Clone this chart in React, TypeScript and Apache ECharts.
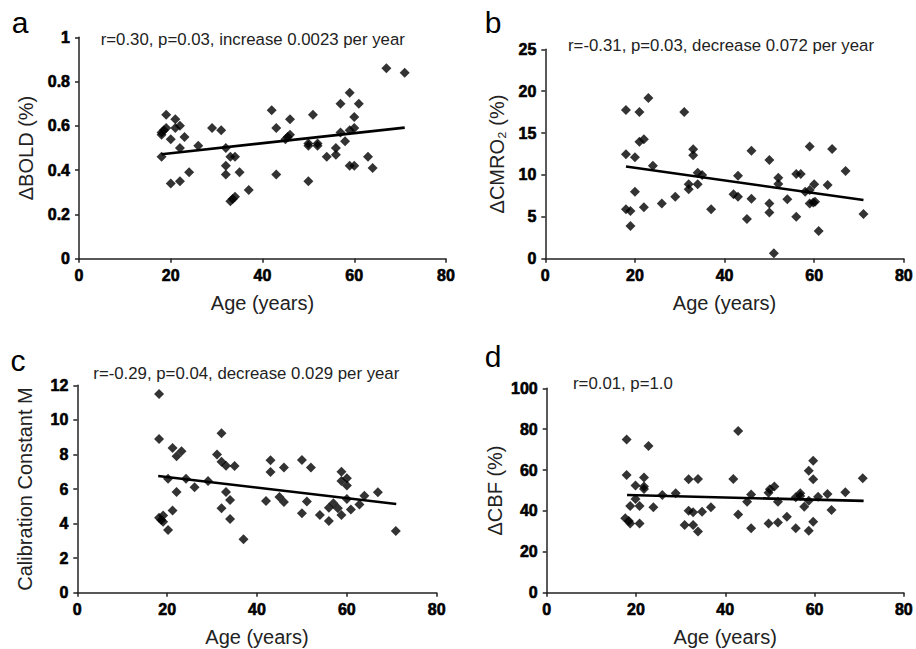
import React, { useEffect, useRef } from "react";
import * as echarts from "echarts";

// Panel a: ΔBOLD (%) vs age
const boldPoints: number[][] = [
  [18, 0.57], [18, 0.56], [18, 0.46], [18.5, 0.58], [19, 0.59], [19, 0.65], [20, 0.54], [20, 0.34],
  [21, 0.63], [21, 0.59], [22, 0.6], [22, 0.5], [22, 0.35], [23, 0.55], [24, 0.39], [26, 0.51],
  [29, 0.59], [31, 0.58], [32, 0.5], [32, 0.42], [32, 0.38], [33, 0.46], [34, 0.46], [33, 0.26],
  [33.5, 0.27], [34, 0.28], [35, 0.39], [37, 0.31], [42, 0.67], [43, 0.59], [43, 0.38], [45, 0.54],
  [45.5, 0.55], [46, 0.56], [46, 0.63], [50, 0.52], [50, 0.51], [50, 0.35], [51, 0.65], [52, 0.52],
  [52, 0.51], [54, 0.46], [56, 0.5], [56, 0.47], [57, 0.7], [57, 0.57], [58, 0.53], [59, 0.75],
  [59, 0.58], [59, 0.42], [60, 0.59], [60, 0.64], [60, 0.42], [61, 0.7], [63, 0.46], [64, 0.41],
  [67, 0.86], [71, 0.84],
];
const boldFit: number[][] = [[18, 0.472], [71, 0.592]];

// Panel b: ΔCMRO2 (%) vs age
const cmroPoints: number[][] = [
  [18, 17.75], [18, 12.46], [18, 5.9], [19, 5.7], [19, 3.9], [20, 12.1], [20, 8.0], [21, 17.5],
  [21, 13.97], [22, 14.25], [22, 6.13], [23, 19.2], [24, 11.1], [26, 6.6], [29, 7.4], [31, 17.5],
  [32, 8.88], [32, 8.28], [33, 13.06], [33, 12.34], [34, 10.27], [34, 8.88], [35, 10.0], [37, 5.9],
  [42, 7.68], [43, 7.4], [43, 9.9], [45, 4.74], [46, 12.9], [46, 7.17], [50, 11.78], [50, 6.6],
  [50, 5.53], [51, 0.64], [52, 9.67], [52, 8.92], [54, 7.09], [56, 5.0], [56, 10.1], [57, 10.1],
  [58, 8.0], [59, 13.4], [59, 8.2], [59, 6.6], [59.8, 6.7], [60, 8.9], [60.2, 6.8], [61, 3.3],
  [63, 8.8], [64, 13.1], [67, 10.47], [71, 5.33],
];
const cmroFit: number[][] = [[18, 11.0], [71, 7.0]];

// Panel c: Calibration constant M vs age
const mPoints: number[][] = [
  [18.2, 11.5], [18.2, 8.89], [18.2, 4.34], [18.7, 4.2], [19.1, 4.46], [19.1, 4.11], [20.2, 3.63],
  [20.2, 6.6], [21.2, 4.75], [21.2, 8.37], [22.1, 7.9], [23.2, 8.18], [22.1, 5.83], [24.2, 6.6],
  [26.1, 6.1], [29.1, 6.46], [31.1, 8.0], [32.1, 9.22], [32.1, 7.58], [32.1, 4.88], [33.1, 7.35],
  [33.1, 5.83], [34, 5.36], [34, 4.26], [35, 7.33], [37, 3.09], [42, 5.3], [43, 7.66], [43, 6.98],
  [45, 5.54], [46, 5.25], [46, 7.24], [50, 7.68], [50, 4.59], [51.1, 5.27], [52, 7.25], [54, 4.5],
  [56, 4.15], [56, 4.92], [57, 5.17], [58, 4.88], [58.8, 7.0], [58.8, 6.46], [58.8, 4.5], [60, 6.62],
  [60, 6.2], [60, 5.42], [60.9, 4.82], [62.8, 5.11], [63.9, 5.61], [66.9, 5.81], [70.9, 3.57],
];
const mFit: number[][] = [[18, 6.75], [71, 5.13]];

// Panel d: ΔCBF (%) vs age
const cbfPoints: number[][] = [
  [17.9, 75.0], [17.9, 57.6], [17.6, 36.4], [18.4, 35.1], [18.7, 33.9], [18.7, 42.4], [19.9, 52.4],
  [19.9, 45.8], [20.8, 33.9], [20.8, 42.4], [21.8, 56.3], [21.8, 51.9], [21.8, 50.7], [22.8, 71.8],
  [23.9, 41.8], [25.9, 47.8], [28.9, 48.6], [30.9, 33.1], [31.8, 55.5], [31.8, 40.1], [32.8, 39.3],
  [32.8, 33.1], [33.9, 55.6], [33.9, 29.9], [34.8, 39.6], [36.8, 41.8], [41.8, 55.6], [42.9, 79.1],
  [42.9, 38.3], [44.9, 44.5], [45.8, 48.1], [45.8, 31.5], [49.7, 48.9], [50, 50.6], [51, 51.9],
  [49.7, 33.9], [51.8, 44.5], [51.8, 34.3], [53.8, 37.2], [55.8, 31.5], [55.8, 46.7], [56.8, 48.6],
  [56.8, 47.3], [57.7, 42.1], [58.7, 59.7], [58.7, 45.0], [58.7, 30.3], [59.7, 64.6], [59.7, 55.5],
  [59.7, 34.7], [60.8, 47.0], [62.9, 48.3], [63.8, 40.5], [66.9, 49.1], [70.8, 56.0],
];
const cbfFit: number[][] = [[18, 47.8], [71, 44.9]];

const ageTicks = { min: 0, max: 80, interval: 20 };
const yNames = ["\u0394BOLD (%)", "\u0394CMRO\u2082 (%)", "Calibration Constant M", "\u0394CBF (%)"];
const yRanges = [
  { min: 0, max: 1, interval: 0.2 },
  { min: 0, max: 25, interval: 5 },
  { min: 0, max: 12, interval: 2 },
  { min: 0, max: 100, interval: 20 },
];
const panelLetters = ["a", "b", "c", "d"];
const statTexts = [
  "r=0.30, p=0.03, increase 0.0023 per year",
  "r=-0.31, p=0.03, decrease 0.072 per year",
  "r=-0.29, p=0.04, decrease 0.029 per year",
  "r=0.01, p=1.0",
];

const FONT = "Liberation Sans, Arial, sans-serif";

export default function App() {
  const ref = useRef<HTMLDivElement>(null);
  useEffect(() => {
    if (!ref.current) return;
    const chart = echarts.init(ref.current, null, { renderer: "svg" });
    const grids = [
      { left: 79, right: 470, top: 37.3, bottom: 390.3 },
      { left: 545.3, right: 10.3, top: 49.3, bottom: 390.3 },
      { left: 77.3, right: 479.3, top: 385.3, bottom: 56.3 },
      { left: 546.7, right: 8, top: 388.3, bottom: 56.3 },
    ];
    const axisLine = { show: true, lineStyle: { color: "#222", width: 1.5 } };
    const axisTick = { show: true, length: 4, lineStyle: { color: "#222", width: 1.5 } };
    const tickLabel = {
      color: "#000",
      fontFamily: FONT,
      fontWeight: "bold",
      fontSize: 16,
      textBorderColor: "#000",
      textBorderWidth: 0.6,
    };
    const xAxes = grids.map((_, i) => ({
      type: "value",
      gridIndex: i,
      ...ageTicks,
      axisLine,
      axisTick,
      splitLine: { show: false },
      axisLabel: { ...tickLabel, margin: 9 },
      name: "Age (years)",
      nameLocation: "middle",
      nameGap: 34,
      nameTextStyle: { color: "#222", fontFamily: FONT, fontSize: 20 },
    }));
    const yAxes = grids.map((_, i) => ({
      type: "value",
      gridIndex: i,
      ...yRanges[i],
      axisLine,
      axisTick,
      splitLine: { show: false },
      axisLabel: { ...tickLabel, margin: 9 },
      name: yNames[i],
      nameLocation: "middle",
      nameRotate: 90,
      nameGap: i === 0 ? 43 : i === 1 ? 38 : 42,
      nameTextStyle: { color: "#222", fontFamily: FONT, fontSize: 20 },
    }));
    const pts = [boldPoints, cmroPoints, mPoints, cbfPoints];
    const fits = [boldFit, cmroFit, mFit, cbfFit];
    const series: any[] = [];
    pts.forEach((d, i) => {
      series.push({
        type: "scatter",
        xAxisIndex: i,
        yAxisIndex: i,
        data: d,
        symbol: "diamond",
        symbolSize: 10,
        itemStyle: { color: "#000" },
      });
      series.push({
        type: "line",
        xAxisIndex: i,
        yAxisIndex: i,
        data: fits[i],
        showSymbol: false,
        symbol: "none",
        lineStyle: { color: "#000", width: 2.6 },
      });
    });
    const letterPos = [
      [20, 22],
      [493, 22],
      [18, 360],
      [493, 356],
    ];
    const statPos = [
      [100.7, 39],
      [568, 45],
      [93.3, 373.3],
      [573, 383.3],
    ];
    const graphic: any[] = [];
    panelLetters.forEach((l, i) => {
      graphic.push({
        type: "text",
        x: letterPos[i][0],
        y: letterPos[i][1],
        style: {
          text: l,
          fill: "#000",
          font: `30px ${FONT}`,
          textAlign: "center",
          textVerticalAlign: "middle",
        },
      });
      graphic.push({
        type: "text",
        x: statPos[i][0],
        y: statPos[i][1],
        style: {
          text: statTexts[i],
          fill: "#222",
          font: `16.8px ${FONT}`,
          textAlign: "left",
          textVerticalAlign: "middle",
        },
      });
    });
    chart.setOption({
      animation: false,
      backgroundColor: "#fff",
      grid: grids,
      xAxis: xAxes,
      yAxis: yAxes,
      series,
      graphic,
    });
    return () => chart.dispose();
  }, []);
  return (
    <div
      ref={ref}
      style={{ position: "fixed", left: 0, top: 0, width: 916, height: 649, background: "#fff" }}
    />
  );
}
